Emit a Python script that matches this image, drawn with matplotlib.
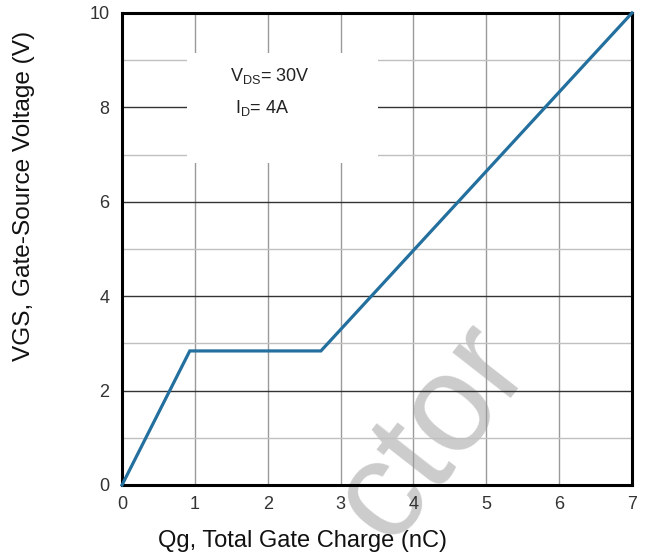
import matplotlib
matplotlib.use("Agg")
import matplotlib.pyplot as plt
from matplotlib.patches import Rectangle

## 데이터 : 게이트 전하 곡선 (Qg vs VGS)
qg_nc = [0.0, 0.93, 2.73, 7.0]
vgs_v = [0.0, 2.84, 2.84, 10.0]

x_ticks = [0, 1, 2, 3, 4, 5, 6, 7]
y_major = [0, 2, 4, 6, 8, 10]
y_minor = [1, 3, 5, 7, 9]

plt.rcParams["font.family"] = ["Liberation Sans", "DejaVu Sans"]
plt.rcParams["mathtext.fontset"] = "custom"
plt.rcParams["mathtext.rm"] = "Liberation Sans"

fig = plt.figure(figsize=(6.48, 5.56), dpi=100)
ax = fig.add_axes([0.1883, 0.1277, 0.787, 0.849])

ax.set_xlim(0, 7)
ax.set_ylim(0, 10)
ax.set_xticks(x_ticks)
ax.set_yticks(y_major)
ax.set_yticks(y_minor, minor=True)
ax.set_axisbelow(True)

# 격자선 : 세로는 회색, 가로 짝수는 진하게, 홀수는 연하게
ax.grid(True, axis="x", color="#9a9a9a", lw=1.0)
ax.grid(True, axis="y", which="major", color="#333333", lw=1.0)
ax.grid(True, axis="y", which="minor", color="#c0c0c0", lw=1.0)

ax.tick_params(axis="both", which="both", length=0, labelsize=13, labelcolor="#333333")
ax.tick_params(axis="y", pad=9)
ax.tick_params(axis="x", pad=8)

for s in ax.spines.values():
    s.set_linewidth(2.2)
    s.set_color("black")
    s.set_zorder(3)

# 주석 뒤 흰 박스
ax.add_patch(Rectangle((0.89, 6.82), 2.62, 2.33, facecolor="white",
                       edgecolor="none", zorder=1))
ax.text(1.48, 8.66, r"V$_{\mathrm{DS}}$= 30V", fontsize=13, color="#222222",
        va="center", ha="left", zorder=2)
ax.text(1.55, 7.98, r"I$_{\mathrm{D}}$= 4A", fontsize=13, color="#222222",
        va="center", ha="left", zorder=2)

# 워터마크 (격자선 아래)
ax.text(0.667, 0.222, "ctor", transform=fig.transFigure, fontsize=100,
        color="#cccccc", rotation=52, ha="center", va="center",
        zorder=0.3, clip_on=False)

ax.plot(qg_nc, vgs_v, color="#236f9e", lw=2.3, zorder=4, clip_on=False,
        solid_joinstyle="miter")

fig.text(24 / 648, 0.647, "VGS, Gate-Source Voltage (V)", fontsize=17.6,
         color="#111111", rotation=90, ha="center", va="center")
ax.text(303 / 648, 0.027, "Qg, Total Gate Charge (nC)",
        transform=fig.transFigure, fontsize=17, color="#111111",
        ha="center", va="center", zorder=5)

fig.savefig("out.png", dpi=100)
